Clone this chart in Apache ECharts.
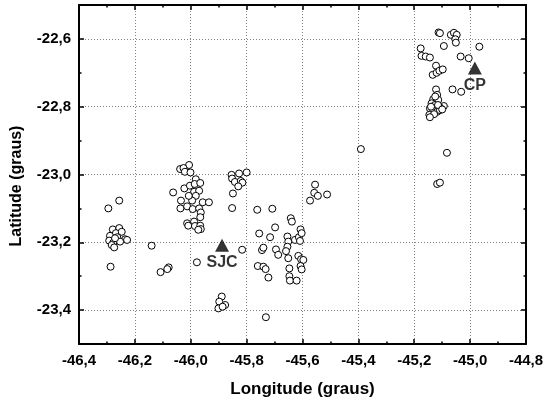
<!DOCTYPE html>
<html>
<head>
<meta charset="utf-8">
<script src="https://cdn.jsdelivr.net/npm/echarts@6/dist/echarts.min.js"></script>
<style>
html,body{margin:0;padding:0;background:#fff;}
#c{width:543px;height:402px;}
</style>
</head>
<body>
<div id="c"></div>
<script>
// Station longitudes / latitudes (graus)
var lon = [
-46.295,-46.256,-46.287,-46.279,-46.256,-46.268,-46.247,-46.289,-46.263,-46.235,-46.292,-46.277,-46.253,-46.283,-46.274,-46.271,-46.228,
-46.140,-46.108,-46.079,-46.084,
-46.006,-46.038,-46.026,-46.021,-46.001,-45.982,-46.063,-46.023,-46.003,-45.986,-45.966,-45.988,-45.970,-45.982,-45.995,-46.007,-46.035,
-46.037,-46.013,-45.993,-45.970,-45.957,-45.935,-45.964,-45.966,-46.013,-46.009,-45.988,-45.985,-45.966,-45.964,-45.973,-45.978,
-45.854,-45.827,-45.800,-45.852,-45.842,-45.821,-45.815,-45.830,-45.849,-45.852,
-45.555,-45.558,-45.545,-45.573,-45.512,
-45.391,
-45.762,-45.708,-45.755,-45.698,-45.716,-45.745,-45.740,-45.816,-45.695,-45.687,-45.760,-45.740,-45.732,-45.722,-45.731,
-45.642,-45.638,-45.654,-45.651,-45.654,-45.659,-45.651,-45.647,-45.647,-45.645,-45.621,-45.627,-45.613,-45.607,-45.603,-45.609,
-45.615,-45.605,-45.597,-45.607,-45.603,
-45.889,-45.898,-45.877,-45.901,-45.886,
-45.113,-45.108,-45.069,-45.058,-45.048,-45.053,-45.051,-45.094,-44.967,-45.177,-45.174,-45.159,-45.144,-45.034,-45.005,
-45.122,-45.134,-45.120,-45.110,-45.098,-45.063,-45.032,
-45.122,-45.118,-45.132,-45.114,-45.138,-45.126,-45.094,-45.108,-45.144,-45.132,-45.118,-45.146,-45.129,-45.144,-45.108,
-45.125,-45.140,-45.115,-45.100,
-45.083,-45.118,-45.108
];
var lat = [
-23.100,-23.077,-23.272,-23.162,-23.158,-23.173,-23.169,-23.181,-23.185,-23.191,-23.195,-23.201,-23.198,-23.208,-23.215,-23.188,-23.193,
-23.210,-23.288,-23.274,-23.279,
-22.972,-22.984,-22.981,-22.992,-22.994,-23.014,-23.053,-23.041,-23.033,-23.028,-23.025,-23.051,-23.048,-23.063,-23.077,-23.063,-23.077,
-23.100,-23.094,-23.102,-23.100,-23.082,-23.082,-23.112,-23.126,-23.144,-23.151,-23.139,-23.152,-23.151,-23.161,-23.163,-23.259,
-23.001,-22.997,-22.994,-23.012,-23.022,-23.019,-23.024,-23.035,-23.056,-23.099,
-23.030,-23.054,-23.063,-23.077,-23.059,
-22.925,
-23.104,-23.101,-23.174,-23.156,-23.185,-23.223,-23.216,-23.222,-23.221,-23.237,-23.270,-23.272,-23.279,-23.304,-23.421,
-23.129,-23.139,-23.183,-23.198,-23.213,-23.226,-23.247,-23.277,-23.300,-23.313,-23.313,-23.193,-23.185,-23.162,-23.173,-23.196,
-23.240,-23.250,-23.252,-23.270,-23.280,
-23.360,-23.375,-23.385,-23.395,-23.390,
-22.581,-22.583,-22.588,-22.582,-22.588,-22.601,-22.611,-22.621,-22.623,-22.628,-22.650,-22.652,-22.655,-22.652,-22.657,
-22.679,-22.706,-22.700,-22.694,-22.690,-22.749,-22.756,
-22.749,-22.765,-22.778,-22.780,-22.790,-22.795,-22.798,-22.802,-22.805,-22.812,-22.815,-22.824,-22.822,-22.831,-22.810,
-22.770,-22.800,-22.795,-22.808,
-22.936,-23.028,-23.024
];
// Reference cities
var cityName = ['SJC', 'CP'];
var cityLon = [-45.888, -44.983];
var cityLat = [-23.209, -22.686];
// Tick values
var xTicks = [-46.4,-46.2,-46.0,-45.8,-45.6,-45.4,-45.2,-45.0,-44.8];
var yMajor = [-23.4,-23.2,-23.0,-22.8,-22.6];
var yMinor = [-23.3,-23.1,-22.9,-22.7];

var pts = lon.map(function(v, i){ return [v, lat[i]]; });
var cities = cityName.map(function(n, i){ return {name: n, value: [cityLon[i], cityLat[i]]}; });

var FONT = '"Liberation Sans", Arial, Helvetica, sans-serif';
function fmt(v){ return Number(v).toFixed(1).replace('.', ','); }
var gridLine = {show:true, lineStyle:{color:'#808080', width:1, type:[1,2]}};
var axLine = {show:true, onZero:false, lineStyle:{color:'#000', width:2}};
var tickMaj = {show:true, inside:true, length:5, lineStyle:{color:'#000', width:1.5}};
var tickMin = {show:true, inside:true, length:2.5, lineStyle:{color:'#000', width:1.5}};

var chart = echarts.init(document.getElementById('c'), null, {renderer:'canvas'});
chart.setOption({
  animation:false,
  backgroundColor:'#fff',
  grid:{left:79, right:17, top:5, bottom:58, containLabel:false, outerBoundsMode:'none'},
  xAxis:[
    {type:'value', position:'bottom', min:-46.4, max:-44.8, interval:0.2,
     axisLine:axLine, axisTick:tickMaj,
     minorTick:{show:true, splitNumber:2, length:2.5, lineStyle:{color:'#000', width:1.5}},
     axisLabel:{show:true, formatter:fmt, margin:9, color:'#000', fontFamily:FONT, fontWeight:'bold', fontSize:15, showMinLabel:true, showMaxLabel:true, hideOverlap:false},
     splitLine:gridLine, minorSplitLine:{show:false},
     name:'Longitude (graus)', nameLocation:'middle', nameGap:37,
     nameTextStyle:{color:'#000', fontFamily:FONT, fontWeight:'bold', fontSize:17}},
    {type:'value', position:'top', min:-46.4, max:-44.8, interval:0.2,
     axisLine:axLine, axisTick:tickMaj,
     minorTick:{show:true, splitNumber:2, length:2.5, lineStyle:{color:'#000', width:1.5}},
     axisLabel:{show:false}, splitLine:{show:false}}
  ],
  yAxis:[
    {type:'value', position:'left', min:-23.5, max:-22.5,
     axisLine:axLine,
     axisTick:Object.assign({customValues:yMajor}, tickMaj),
     axisLabel:{show:true, customValues:yMajor, formatter:fmt, margin:8, color:'#000', fontFamily:FONT, fontWeight:'bold', fontSize:15, hideOverlap:false},
     splitLine:gridLine,
     name:'Latitude (graus)', nameLocation:'middle', nameGap:54,
     nameTextStyle:{color:'#000', fontFamily:FONT, fontWeight:'bold', fontSize:16, padding:[0,23,0,0]}},
    {type:'value', position:'left', min:-23.5, max:-22.5,
     axisLine:{show:false}, axisTick:Object.assign({customValues:yMinor}, tickMin),
     axisLabel:{show:false}, splitLine:{show:false}},
    {type:'value', position:'right', min:-23.5, max:-22.5,
     axisLine:axLine, axisTick:Object.assign({customValues:yMajor}, tickMaj),
     axisLabel:{show:false}, splitLine:{show:false}},
    {type:'value', position:'right', min:-23.5, max:-22.5,
     axisLine:{show:false}, axisTick:Object.assign({customValues:yMinor}, tickMin),
     axisLabel:{show:false}, splitLine:{show:false}}
  ],
  series:[
    {type:'scatter', xAxisIndex:0, yAxisIndex:0, data:pts, symbol:'circle', symbolSize:7,
     itemStyle:{color:'#fff', borderColor:'#000', borderWidth:1, opacity:1}, silent:true},
    {type:'scatter', xAxisIndex:0, yAxisIndex:0, data:cities, symbol:'triangle', symbolSize:[14,13],
     itemStyle:{color:'#000'}, z:5,
     label:{show:true, position:'bottom', distance:3, formatter:'{b}', color:'#000', fontFamily:FONT, fontWeight:'bold', fontSize:16}}
  ]
});
</script>
</body>
</html>
